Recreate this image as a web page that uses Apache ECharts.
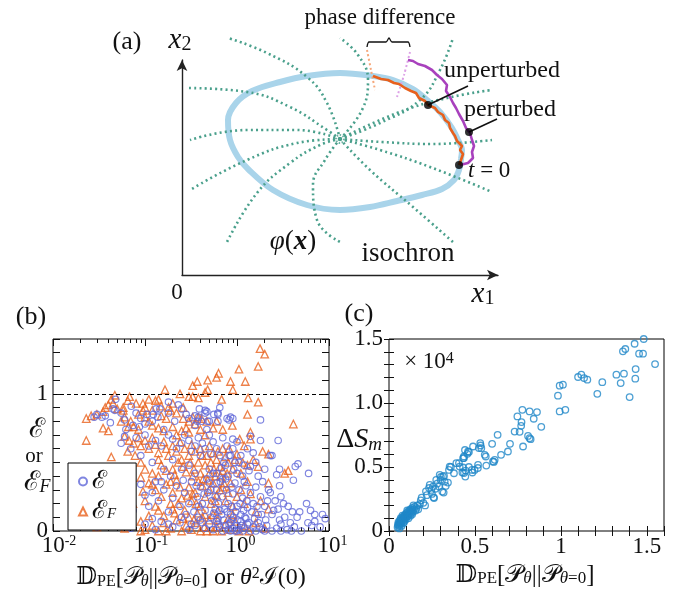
<!DOCTYPE html>
<html><head><meta charset="utf-8">
<script src="https://cdn.jsdelivr.net/npm/echarts@6/dist/echarts.min.js"></script>
<style>html,body{margin:0;padding:0;background:#fff}#c{width:685px;height:591px}</style>
</head><body><div id="c"></div>
<script>
const SERIF = "'Liberation Serif','DejaVu Serif',serif";

// ---------- panel (a): schematic, [x1, x2] in schematic units ----------
const limitCycle = [[279,116],[280,125],[276,135],[270,147],[258,163],[245,175],[231,186],[211,195],[191,199],[158,202],[125,199],[98,193],[70,184],[54,172],[46,155],[48,135],[56,118],[66,106],[91,85],[125,70],[158,65],[188,68],[215,74],[240,80],[260,86],[272,95],[277,105],[279,116]];
const isochrons = [
  [[158,136],[145,172],[125,198],[85,222],[46,237]],
  [[158,136],[145,145],[108,168],[65,183],[6,187]],
  [[158,136],[115,145],[65,145],[8,135]],
  [[158,136],[115,132],[65,115],[8,85]],
  [[158,136],[138,130],[108,112],[75,82],[45,33]],
  [[158,136],[143,115],[131,90],[135,55],[158,33]],
  [[158,136],[188,105],[231,68],[271,33]],
  [[158,136],[198,125],[248,108],[310,83]],
  [[158,136],[200,133],[250,131],[310,135]],
  [[158,136],[215,162],[265,177],[310,185]],
  [[158,136],[198,152],[238,175],[258,205],[271,237]],
  [[158,136],[180,165],[186,195],[176,220],[158,237]]
];
const unperturbed = [[277,110],[279,115],[281,121],[278,125],[280,129],[275,134],[273,139],[271,142],[268,147],[267,152],[263,155],[261,160],[256,163],[253,167],[246,170],[243,174],[237,177],[234,182],[229,184],[223,187],[217,191],[212,192],[206,195],[199,196],[191,199]];
const perturbed = [[278,110],[286,112],[291,117],[290,123],[292,129],[290,135],[288,142],[284,147],[281,154],[277,161],[274,167],[271,172],[268,178],[264,184],[265,190],[260,196],[255,200],[250,205],[243,209],[236,211],[231,214],[226,215]];
const phaseMarkUnpert = [[185,225],[189,205],[193,185]];
const phaseMarkPert = [[228,223],[222,200],[215,178]];
const brace = [[185,228],[187,233],[204,233],[207,237],[210,233],[226,233],[228,228]];
const pointerUnpert = [[246,170],[286,189]];
const pointerPert = [[287,143],[315,156]];
const blackDots = [[277,110],[246,170],[287,143]];
const isoCenter = [[158,136]];

// ---------- panel (b): [D_PE or theta^2 I(0), E or E_F] ----------
const bCircles = [
[0.048,0.96],[0.071,0.91],[0.18,0.94],[0.034,0.83],[0.037,0.84],[0.045,0.89],[0.047,0.88],[0.132,0.89],[0.145,0.89],[0.123,0.85],[0.138,0.83],[0.12,0.8],[0.074,0.77],[0.087,0.76],[0.21,0.8],[0.25,0.89],[0.062,0.74],[0.16,0.74],
[0.03,0.85],[0.028,0.83],[0.042,0.79],[0.055,0.86],[0.06,0.81],[0.08,0.86],[0.09,0.82],[0.1,0.78],[0.105,0.85],[0.23,0.92],[0.18,0.86],[0.28,0.85],[0.3,0.82],[0.35,0.84],[0.45,0.86],[0.5,0.8],[0.56,0.85],[0.65,0.9],[0.78,0.82],[0.85,0.83],[0.62,0.86],[1.8,0.81],[2.8,0.66],[2.3,0.55],
[0.39,0.89],[0.45,0.88],[0.47,0.87],[0.62,0.85],[0.38,0.83],[0.82,0.81],[0.9,0.82],[0.37,0.8],[0.41,0.8],[0.35,0.77],[0.47,0.74],[0.62,0.8],[0.48,0.8],
[0.9,0.67],[1.8,0.66],[1.4,0.69],[2.4,0.55],[1.4,0.47],[2.9,0.45],[2.7,0.41],[4.6,0.49],[4.3,0.47],[6.0,0.42],[4.1,0.37],[2.9,0.33],[0.06,0.69],[0.1,0.7],[0.13,0.66],[0.15,0.62],[0.18,0.7],[0.2,0.67],[0.22,0.6],[0.25,0.64],[0.27,0.7],[0.3,0.66],[0.32,0.58],[0.35,0.62],[0.38,0.68],[0.4,0.55],[0.42,0.64],[0.45,0.6],[0.5,0.7],[0.52,0.56],[0.55,0.65],[0.6,0.6],[0.65,0.55],[0.7,0.68],[0.72,0.5],[0.78,0.62],[0.85,0.55],[0.9,0.6],[0.95,0.5],[1.0,0.65],[1.1,0.55],[1.2,0.48],[1.3,0.6],[1.5,0.57],[1.6,0.5],[2.0,0.45],[0.12,0.5],[0.16,0.45],[0.2,0.52],[0.25,0.45],[0.3,0.48],[0.35,0.42],[0.5,0.45],[0.6,0.42],[0.8,0.4],[1.0,0.42],[0.09,0.55],[0.11,0.62],[0.07,0.6],[0.08,0.68],[0.055,0.64],
[0.09,0.34],[0.1,0.26],[0.074,0.15],[0.11,0.18],[0.13,0.36],[0.14,0.22],[0.16,0.3],[0.18,0.14],[0.2,0.24],[0.22,0.33],[0.24,0.18],[0.27,0.28],[0.3,0.2],[0.32,0.36],[0.34,0.14],[0.37,0.25],[0.4,0.32],[0.42,0.2],[0.45,0.15],[0.48,0.28],[0.5,0.35],[0.53,0.22],[0.56,0.13],[0.6,0.3],[0.63,0.2],[0.66,0.36],[0.7,0.25],[0.73,0.16],[0.77,0.3],[0.8,0.2],[0.85,0.12],[0.9,0.27],[0.95,0.35],[1.0,0.18],[1.05,0.3],[1.1,0.12],[1.15,0.24],[1.2,0.36],[1.3,0.17],[1.4,0.28],[1.5,0.2],[1.6,0.32],[1.7,0.12],[1.8,0.25],[2.0,0.18],[2.2,0.3],[2.4,0.12],[2.6,0.22],[2.8,0.16],[3.0,0.25],[3.3,0.1],[3.6,0.18],[4.0,0.14],[4.5,0.1],[5.7,0.2],[7.0,0.12],[6.3,0.15],[0.65,0.15],[0.75,0.38],[0.88,0.32],[1.25,0.33],[0.58,0.25],[0.38,0.18],[0.28,0.12],[0.47,0.38],[1.9,0.36],[2.3,0.28],
[0.03,0.03],[0.047,0.07],[0.07,0.02],[0.1,0.05],[0.13,0.01],[0.15,0.07],[0.2,0.03],[0.24,0.06],[0.3,0.01],[0.35,0.04],[0.4,0.08],[0.45,0.02],[0.5,0.05],[0.55,0.01],[0.6,0.07],[0.65,0.03],[0.7,0.0],[0.75,0.04],[0.8,0.01],[0.85,0.06],[0.9,0.02],[0.95,0.0],[1.0,0.04],[1.05,0.01],[1.1,0.07],[1.2,0.02],[1.3,0.05],[1.4,0.0],[1.5,0.03],[1.7,0.06],[1.9,0.01],[2.1,0.04],[2.4,0.0],[2.7,0.02],[3.0,0.05],[3.5,0.01],[4.2,0.03],[5.9,0.06],[7.0,0.07],[9.1,0.09],[8.0,0.03],[5.0,0.0],[0.62,0.09],[0.88,0.08],[1.25,0.09],
[0.32,0.05],[0.38,0.1],[0.42,0.06],[0.52,0.1],[0.58,0.16],[0.62,0.05],[0.68,0.12],[0.72,0.08],[0.78,0.14],[0.82,0.05],[0.87,0.18],[0.92,0.1],[0.97,0.14],[1.02,0.08],[1.08,0.2],[1.12,0.04],[1.18,0.15],[1.22,0.1],[1.28,0.22],[1.35,0.06],[1.45,0.14],[1.55,0.09],[1.65,0.18],[1.75,0.03],[1.85,0.12],[2.05,0.08],[2.15,0.22],[2.5,0.15],[2.9,0.08],[3.2,0.2],[3.8,0.06],[4.8,0.14],[6.5,0.04],[8.5,0.12],[0.55,0.42],[0.68,0.46],[0.75,0.48],[0.82,0.55],[0.92,0.45],[1.05,0.5],[1.15,0.4],[1.35,0.44],[1.7,0.4],[0.7,0.38],[0.6,0.35],[0.52,0.3],[0.44,0.27],[0.36,0.33],[0.26,0.37],[0.19,0.4],[0.15,0.36],[0.12,0.28],[0.25,0.1],[0.18,0.05],[0.12,0.09],[1.0,0.0],[1.15,0.0],[1.6,0.0],[2.0,0.0],[0.85,0.0],[3.0,0.0],[3.9,0.0]
];
const bTriangles = [
[1.78,1.33],[2.0,1.29],[1.7,1.2],[1.05,1.18],[0.63,1.15],[0.6,1.12],[0.48,1.1],[0.37,1.09],[0.33,1.06],[0.85,1.09],[1.23,1.09],[0.9,1.03],[0.48,1.03],[0.45,1.01],[0.165,1.03],[0.24,1.0],[0.047,0.99],[0.068,0.98],[0.11,0.96],[0.13,0.95],[0.14,0.96],[0.3,0.98],[0.38,0.97],[0.33,0.98],[1.32,0.97],[1.7,0.94],[0.68,0.96],
[0.023,0.82],[0.026,0.84],[0.03,0.85],[0.035,0.87],[0.037,0.9],[0.04,0.92],[0.045,0.93],[0.05,0.89],[0.043,0.96],[0.058,0.9],[0.065,0.95],[0.08,0.93],[0.095,0.93],[0.1,0.9],[0.12,0.88],[0.15,0.91],[0.18,0.9],[0.19,0.88],[0.2,0.93],[0.26,0.9],[0.22,0.86],[0.058,0.88],[0.06,0.83],[0.085,0.85],[0.095,0.88],[0.1,0.83],[0.11,0.8],[0.15,0.84],[0.17,0.82],[0.26,0.82],[0.3,0.8],[0.35,0.78],[0.38,0.83],[0.33,0.83],[0.41,0.82],[0.47,0.8],[0.055,0.8],[0.07,0.8],[0.075,0.76],[0.066,0.76],[0.085,0.74],[0.12,0.77],[0.14,0.75],[0.16,0.73],[0.2,0.76],[0.22,0.7],[0.25,0.73],[0.28,0.75],[0.3,0.72],[0.4,0.74],[0.45,0.7],[0.6,0.8],[0.55,0.75],[0.7,0.74],[0.89,0.77],[1.3,0.85],[1.4,0.72],[4.1,0.78],[0.035,0.75],[0.04,0.73],[0.023,0.66],
[0.06,0.69],[0.067,0.66],[0.075,0.64],[0.085,0.68],[0.09,0.62],[0.1,0.66],[0.11,0.6],[0.12,0.68],[0.13,0.63],[0.14,0.57],[0.16,0.65],[0.17,0.6],[0.18,0.55],[0.2,0.62],[0.22,0.58],[0.24,0.65],[0.25,0.52],[0.27,0.6],[0.3,0.55],[0.32,0.63],[0.35,0.58],[0.38,0.5],[0.4,0.6],[0.42,0.55],[0.45,0.48],[0.5,0.62],[0.55,0.57],[0.6,0.52],[0.65,0.47],[0.7,0.6],[0.75,0.54],[0.8,0.5],[0.9,0.45],[1.0,0.56],[1.07,0.67],[1.4,0.67],[1.2,0.62],[1.7,0.47],[1.9,0.58],[2.2,0.56],[3.3,0.42],[3.6,0.44],[2.2,0.35],[0.043,0.54],[0.09,0.5],[0.1,0.45],[0.12,0.42],[0.15,0.48],[0.2,0.45],[0.28,0.43],[0.33,0.4],[0.5,0.42],[0.58,0.4],[0.7,0.44],[1.1,0.42],[1.3,0.48],[1.5,0.52],[0.14,0.52],[0.23,0.5],[0.065,0.58],[0.078,0.55],
[0.09,0.39],[0.095,0.29],[0.1,0.22],[0.074,0.2],[0.11,0.35],[0.13,0.3],[0.15,0.25],[0.17,0.34],[0.19,0.2],[0.2,0.28],[0.22,0.37],[0.25,0.24],[0.27,0.15],[0.3,0.32],[0.32,0.22],[0.35,0.28],[0.4,0.18],[0.42,0.33],[0.45,0.25],[0.5,0.3],[0.52,0.2],[0.55,0.35],[0.6,0.26],[0.62,0.15],[0.7,0.32],[0.75,0.22],[0.8,0.28],[0.9,0.18],[1.0,0.25],[1.1,0.3],[1.2,0.2],[1.4,0.27],[1.6,0.14],[1.8,0.22],[2.2,0.16],[0.14,0.15],[0.16,0.11],[0.21,0.13],[0.3,0.1],[0.37,0.13],[0.45,0.12],[0.55,0.12],[0.65,0.3],[0.38,0.36],[0.48,0.37],[0.24,0.32],[0.33,0.27],[0.58,0.22],[0.85,0.35],[1.3,0.36],
[0.022,0.07],[0.03,0.03],[0.06,0.02],[0.09,0.07],[0.1,0.01],[0.12,0.04],[0.14,0.0],[0.16,0.06],[0.19,0.02],[0.22,0.08],[0.25,0.0],[0.28,0.04],[0.32,0.01],[0.36,0.06],[0.4,0.0],[0.44,0.03],[0.5,0.08],[0.55,0.0],[0.6,0.03],[0.68,0.0],[0.75,0.05],[0.85,0.01],[0.95,0.07],[1.05,0.0],[1.2,0.04],[1.35,0.0],[1.6,0.06],[2.0,0.02],[0.09,0.0],[0.05,0.05],[0.17,0.0],[0.26,0.09],[0.47,0.0],[0.8,0.09],
[0.12,0.34],[0.14,0.4],[0.17,0.44],[0.19,0.36],[0.21,0.41],[0.23,0.2],[0.26,0.47],[0.29,0.26],[0.31,0.5],[0.34,0.45],[0.36,0.2],[0.4,0.42],[0.43,0.38],[0.47,0.55],[0.52,0.5],[0.56,0.45],[0.62,0.58],[0.66,0.4],[0.72,0.35],[0.78,0.42],[0.82,0.6],[0.95,0.52],[1.15,0.5],[0.11,0.11],[0.13,0.18],[0.2,0.16],[0.34,0.08],[0.42,0.1],[0.62,0.08],[0.9,0.12]
];
const bRefLevel = 1;
const bMajorTicks = [0.01, 0.1, 1, 10];
const bMinorTicks = [0.02,0.03,0.04,0.05,0.06,0.07,0.08,0.09,0.2,0.3,0.4,0.5,0.6,0.7,0.8,0.9,2,3,4,5,6,7,8,9];
const bYLabels = [0, 1];

// ---------- panel (c): [D_PE, Delta S_m (x 10^4)] ----------
const cPoints = [
[0.05,0.03],[0.052,0.05],[0.055,0.04],[0.058,0.06],[0.06,0.05],[0.062,0.08],[0.065,0.06],[0.067,0.07],[0.07,0.09],[0.072,0.06],[0.075,0.08],[0.077,0.1],[0.08,0.09],[0.082,0.11],[0.085,0.08],[0.087,0.1],[0.09,0.12],[0.092,0.1],[0.095,0.13],[0.097,0.11],[0.1,0.12],[0.102,0.14],[0.105,0.11],[0.108,0.13],[0.11,0.15],[0.112,0.12],[0.115,0.14],[0.118,0.16],[0.12,0.13],[0.123,0.15],[0.126,0.17],[0.13,0.14],[0.133,0.16],[0.136,0.18],[0.14,0.15],[0.145,0.17],[0.15,0.19],[0.155,0.16],[0.16,0.18],[0.165,0.2],[0.17,0.17],[0.18,0.21],[0.185,0.24],[0.19,0.26],[0.2,0.22],[0.21,0.2],[0.063,0.04],[0.068,0.1],[0.078,0.12],[0.088,0.07],[0.098,0.09],[0.106,0.16],[0.113,0.1],[0.125,0.12],[0.135,0.13],[0.142,0.2],[0.055,0.07],[0.06,0.02],[0.073,0.04],[0.083,0.06],
[0.237,0.36],[0.256,0.347],[0.246,0.321],[0.26,0.263],[0.275,0.399],[0.291,0.347],[0.295,0.438],[0.31,0.308],[0.314,0.425],[0.318,0.3],[0.324,0.386],[0.33,0.352],[0.343,0.378],[0.349,0.477],[0.353,0.503],[0.36,0.5],[0.32,0.43],[0.302,0.422],[0.262,0.258],[0.233,0.336],[0.378,0.451],[0.392,0.53],[0.407,0.531],[0.411,0.503],[0.431,0.496],[0.427,0.457],[0.446,0.472],[0.444,0.425],[0.436,0.453],[0.436,0.57],[0.431,0.569],[0.436,0.582],[0.442,0.633],[0.456,0.603],[0.46,0.621],[0.465,0.617],[0.465,0.5],[0.483,0.477],[0.485,0.457],[0.489,0.66],[0.498,0.477],[0.517,0.492],[0.518,0.517],[0.523,0.648],[0.531,0.686],[0.533,0.668],[0.537,0.647],[0.557,0.595],[0.563,0.582],[0.566,0.511],[0.6,0.681],[0.605,0.543],[0.615,0.556],[0.61,0.54],[0.632,0.751],[0.652,0.595],[0.692,0.621],[0.704,0.681],[0.731,0.777],[0.747,0.895],[0.76,0.775],[0.769,0.822],[0.771,0.851],[0.776,0.947],[0.78,0.66],[0.809,0.743],[0.818,0.725],[0.824,0.717],[0.818,0.934],[0.842,0.877],[0.861,0.929],[0.886,0.814],[0.983,1.057],[0.993,1.135],[1.012,1.143],[0.993,0.934],[1.026,0.947],[1.1,1.203],[1.119,1.221],[1.135,1.195],[1.154,1.182],[1.212,1.072],[1.241,1.163],[1.323,1.221],[1.348,1.156],[1.361,1.404],[1.367,1.229],[1.375,1.422],[1.4,1.046],[1.429,1.463],[1.433,1.19],[1.435,1.265],[1.455,1.385],[1.478,1.385],[1.482,1.5],[1.548,1.304],
[0.3,0.4],[0.28,0.37],[0.27,0.33],[0.22,0.28],[0.215,0.31],[0.25,0.29]
];
const cXLabels = [0, 0.5, 1, 1.5];
const cYLabels = [0, 0.5, 1, 1.5];

// ---------- build ----------
const chart = echarts.init(document.getElementById('c'), null, {renderer:'canvas'});
const BLACK = '#111';
const tickStyle = {color: BLACK, width: 1};
function hiddenAxis(extra){ return Object.assign({axisLine:{show:false}, axisTick:{show:false}, axisLabel:{show:false}, splitLine:{show:false}}, extra); }

const logLabelRich = {
  bn:{fontFamily:SERIF, fontSize:23, color:BLACK, padding:[0,0,0,12]},
  bp:{fontFamily:SERIF, fontSize:23, color:BLACK, padding:[0,0,0,7]},
  s:{fontFamily:SERIF, fontSize:14, color:BLACK, verticalAlign:'top', padding:[0,0,6,0]}
};

const xAxes = [
  hiddenAxis({gridIndex:0, type:'value', min:0, max:316, axisLine:{show:true, symbol:['none','arrow'], symbolSize:[8,11], lineStyle:{color:'#222', width:1.4}}}),
  hiddenAxis({gridIndex:1, type:'log', logBase:10, min:0.01, max:10, position:'bottom',
    axisTick:{show:true, inside:true, length:7, lineStyle:tickStyle, customValues:bMajorTicks},
    axisLabel:{show:true, margin:3, customValues:bMajorTicks,
      formatter: v => { const e = Math.round(Math.log10(v)); return (e<0?'{bn|10}':'{bp|10}') + '{s|' + e + '}'; },
      rich: logLabelRich}}),
  hiddenAxis({gridIndex:1, type:'log', logBase:10, min:0.01, max:10, position:'bottom',
    axisTick:{show:true, inside:true, length:4, lineStyle:tickStyle, customValues:bMinorTicks}}),
  hiddenAxis({gridIndex:1, type:'log', logBase:10, min:0.01, max:10, position:'top',
    axisTick:{show:true, inside:true, length:7, lineStyle:tickStyle, customValues:bMajorTicks}}),
  hiddenAxis({gridIndex:1, type:'log', logBase:10, min:0.01, max:10, position:'top',
    axisTick:{show:true, inside:true, length:4, lineStyle:tickStyle, customValues:bMinorTicks}}),
  hiddenAxis({gridIndex:2, type:'value', min:0, max:1.6, interval:0.1, position:'bottom',
    axisTick:{show:true, inside:true, length:5, lineStyle:tickStyle},
    axisLabel:{show:true, margin:4, customValues:cXLabels, fontFamily:SERIF, fontSize:23, color:BLACK,
      formatter: v => String(+v.toFixed(1))}}),
  hiddenAxis({gridIndex:2, type:'value', min:0, max:1.6, interval:0.1, position:'top',
    axisTick:{show:true, inside:true, length:5, lineStyle:tickStyle}})
];
const yAxes = [
  hiddenAxis({gridIndex:0, type:'value', min:0, max:215, axisLine:{show:true, symbol:['none','arrow'], symbolSize:[8,11], lineStyle:{color:'#222', width:1.4}}}),
  hiddenAxis({gridIndex:1, type:'value', min:0, max:1.4, interval:0.1, position:'left',
    axisTick:{show:true, inside:true, length:7, lineStyle:tickStyle},
    axisLabel:{show:true, margin:5, customValues:bYLabels, fontFamily:SERIF, fontSize:23, color:BLACK, formatter: v => String(Math.round(v))}}),
  hiddenAxis({gridIndex:1, type:'value', min:0, max:1.4, interval:0.1, position:'right',
    axisTick:{show:true, inside:true, length:7, lineStyle:tickStyle}}),
  hiddenAxis({gridIndex:2, type:'value', min:0, max:1.5, interval:0.1, position:'left',
    axisTick:{show:true, inside:true, length:5, lineStyle:tickStyle},
    axisLabel:{show:true, margin:6, customValues:cYLabels, fontFamily:SERIF, fontSize:23, color:BLACK,
      formatter: v => v===0 ? '0' : v.toFixed(1)}}),
  hiddenAxis({gridIndex:2, type:'value', min:0, max:1.5, interval:0.1, position:'right',
    axisTick:{show:true, inside:true, length:5, lineStyle:tickStyle}})
];

const series = [];
function aLine(data, style, extra){
  series.push(Object.assign({type:'line', xAxisIndex:0, yAxisIndex:0, data:data, symbol:'none', clip:false, silent:true, animation:false, lineStyle:style}, extra||{}));
}
aLine(limitCycle, {color:'#a9d4ea', width:6}, {smooth:0.35, z:2});
isochrons.forEach(d => aLine(d, {color:'#4aa08c', width:2.6, type:[2,3.2], cap:'butt'}, {smooth:0.45, z:3}));
aLine(phaseMarkUnpert, {color:'#f6a77a', width:2, type:[2,2.5]}, {smooth:0.3, z:3});
aLine(phaseMarkPert, {color:'#dca0e6', width:2, type:[2,2.5]}, {smooth:0.3, z:3});
aLine(unperturbed, {color:'#e8601c', width:2.6}, {z:5});
aLine(perturbed, {color:'#a841bd', width:2.6}, {z:4});
aLine(brace, {color:'#111', width:1.3}, {smooth:0.25, z:5});
aLine(pointerUnpert, {color:'#111', width:1.6}, {z:6});
aLine(pointerPert, {color:'#111', width:1.6}, {z:6});
series.push({type:'scatter', xAxisIndex:0, yAxisIndex:0, data:isoCenter, symbol:'circle', symbolSize:8, clip:false, silent:true, animation:false,
  itemStyle:{color:'rgba(0,0,0,0)', borderColor:'#4aa08c', borderWidth:2, borderType:[1.5,1.5]}, z:3});
series.push({type:'scatter', xAxisIndex:0, yAxisIndex:0, data:blackDots, symbol:'circle', symbolSize:8, clip:false, silent:true, animation:false,
  itemStyle:{color:'#000'}, z:7});

series.push({name:'E', type:'scatter', xAxisIndex:1, yAxisIndex:1, data:bCircles, symbol:'circle', symbolSize:6.5, animation:false,
  itemStyle:{color:'rgba(0,0,0,0)', borderColor:'#5f66d8', borderWidth:1.15}, z:5,
  markLine:{silent:true, symbol:'none', animation:false, label:{show:false}, data:[{yAxis:bRefLevel}], lineStyle:{color:'#000', width:1, type:[4,3]}}});
series.push({name:'EF', type:'scatter', xAxisIndex:1, yAxisIndex:1, data:bTriangles, symbol:'triangle', symbolSize:7.5, animation:false,
  itemStyle:{color:'rgba(0,0,0,0)', borderColor:'#e8601c', borderWidth:1.3}, z:4});

series.push({type:'scatter', xAxisIndex:5, yAxisIndex:3, data:cPoints, symbol:'circle', symbolSize:6.5, animation:false,
  itemStyle:{color:'rgba(0,0,0,0)', borderColor:'#1f87c8', borderWidth:1.3}, z:3});

function T(x, y, text, size, align, rich, extra){
  return Object.assign({type:'text', x:x, y:y, silent:true, z:100, style:{text:text, fontFamily:SERIF, fontSize:size, fill:BLACK,
    textAlign:align||'center', textVerticalAlign:'middle', rich:rich||{}}}, extra||{});
}
const R = (n) => ({
  n:{fontFamily:SERIF, fontSize:n, fill:BLACK},
  i:{fontFamily:SERIF, fontSize:n, fontStyle:'italic', fill:BLACK},
  bi:{fontFamily:SERIF, fontSize:n, fontStyle:'italic', fontWeight:'bold', fill:BLACK},
  s:{fontFamily:SERIF, fontSize:Math.round(n*0.68), fill:BLACK, verticalAlign:'bottom'},
  si:{fontFamily:SERIF, fontSize:Math.round(n*0.68), fontStyle:'italic', fill:BLACK, verticalAlign:'bottom'},
  p:{fontFamily:SERIF, fontSize:Math.round(n*0.68), fill:BLACK, verticalAlign:'top'}
});

const graphic = [
  T(127, 42, '(a)', 26),
  T(180, 40, '{i|x}{s|2}', 29, 'center', R(29)),
  T(177, 293, '0', 23),
  T(483, 294, '{i|x}{s|1}', 29, 'center', R(29)),
  T(380, 18, 'phase difference', 23),
  T(444, 71, 'unperturbed', 24, 'left'),
  T(464, 110, 'perturbed', 24, 'left'),
  T(468, 171, '{i|t}{n| = 0}', 23, 'left', R(23)),
  T(293, 242, '{i|φ}{n|(}{bi|x}{n|)}', 27, 'center', R(27)),
  T(408, 254, 'isochron', 27),
  T(31, 317, '(b)', 26),
  T(359, 314, '(c)', 26),
  T(37, 430, 'ℰ', 27),
  T(34, 456, 'or', 21),
  T(37, 483, '{n|ℰ}{si|F}', 27, 'center', R(27)),
  T(191, 578, '{n|𝔻}{s|PE}{n|[𝒫}{si|θ}{n|||𝒫}{si|θ}{s|=0}{n|] or }{i|θ}{p|2}{n|ℐ(0)}', 24, 'center', R(24)),
  T(525, 575, '{n|𝔻}{s|PE}{n|[𝒫}{si|θ}{n|||𝒫}{si|θ}{s|=0}{n|]}', 25, 'center', R(25)),
  T(359, 440, '{n|Δ}{i|S}{si|m}', 28, 'center', R(28)),
  T(429, 362, '{n|× 10}{p|4}', 23, 'center', R(23))
];

chart.setOption({
  animation:false,
  backgroundColor:'#fff',
  grid:[
    {left:182, top:60, width:316, height:215, show:false},
    {left:53, top:339, width:276, height:192, show:true, borderColor:'#000', borderWidth:1, backgroundColor:'transparent'},
    {left:389, top:339, width:275, height:192, show:true, borderColor:'#000', borderWidth:1, backgroundColor:'transparent'}
  ],
  xAxis:xAxes, yAxis:yAxes, series:series,
  legend:{data:['E','EF'], left:68, top:463, orient:'vertical', itemWidth:8, itemHeight:8, itemGap:5,
    padding:[6,20,6,10], borderColor:'#000', borderWidth:1, backgroundColor:'#fff', selectedMode:false, z:50,
    formatter: n => n==='E' ? '{a|ℰ}' : '{a|ℰ}{f|F}',
    textStyle:{fontFamily:SERIF, color:BLACK, rich:{a:{fontFamily:SERIF, fontSize:25, lineHeight:20}, f:{fontFamily:SERIF, fontSize:15, fontStyle:'italic', verticalAlign:'bottom', lineHeight:20}}}},
  graphic:graphic
});
</script></body></html>
